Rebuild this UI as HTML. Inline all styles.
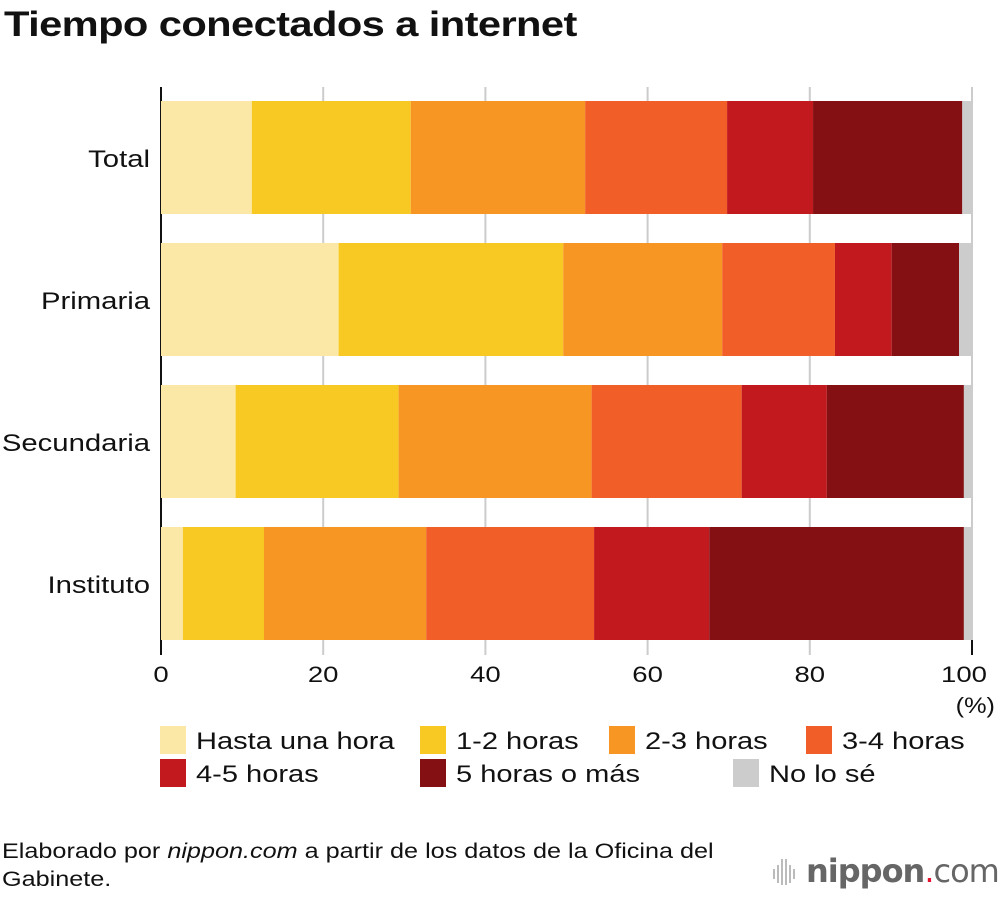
<!DOCTYPE html>
<html><head><meta charset="utf-8"><style>
body{margin:0;background:#fff;font-family:"Liberation Sans",sans-serif;}
#wrap{position:relative;width:1000px;height:898px;overflow:hidden}
.t{position:absolute;color:#111;white-space:nowrap;transform-origin:0 0}
</style></head><body>
<div id="wrap">
<div class="t" style="left:4px;top:5px;font-size:35px;font-weight:bold;letter-spacing:-0.5px;transform:scaleX(1.19)">Tiempo conectados a internet</div>
<svg id="chart" width="1000" height="898" style="position:absolute;left:0;top:0"></svg>
<div class="t" style="left:2px;top:838px;font-size:21px;line-height:28px;transform:scaleX(1.2)">Elaborado por <i>nippon.com</i> a partir de los datos de la Oficina del<br>Gabinete.</div>
<div style="position:absolute;left:772px;top:856px;width:228px;height:36px">
<svg width="30" height="36" style="position:absolute;left:0;top:0">
<g fill="#bbb"><rect x="1" y="13" width="2" height="10"/><rect x="5" y="9" width="2" height="18"/><rect x="9" y="3" width="2" height="26"/><rect x="13" y="3" width="2" height="26"/><rect x="17" y="9" width="2" height="18"/><rect x="21" y="13" width="2" height="10"/></g></svg>
<div class="t" style="left:34px;top:-4px;font-size:32px;color:#666;font-family:'DejaVu Sans',sans-serif;letter-spacing:-1px"><b>nippon</b><span style="color:#e8112d">.</span>com</div>
</div>
</div>
<script>
const categories=["Total","Primaria","Secundaria","Instituto"];
const seriesNames=["Hasta una hora","1-2 horas","2-3 horas","3-4 horas","4-5 horas","5 horas o más","No lo sé"];
const s0=[11.2,21.9,9.2,2.7];
const s1=[19.6,27.7,20.1,10.0];
const s2=[21.5,19.6,23.8,20.0];
const s3=[17.5,13.9,18.5,20.7];
const s4=[10.6,7.0,10.5,14.2];
const s5=[18.4,8.3,16.9,31.4];
const s6=[1.2,1.6,1.0,1.0];
const xTicks=[0,20,40,60,80,100];
const series=[s0,s1,s2,s3,s4,s5,s6];
const colors=["#fce8a6","#f8c823","#f79622","#f15e27","#c1191d","#841013","#cccccc"];
const NS="http://www.w3.org/2000/svg";
const svg=document.getElementById('chart');
const x=v=>161+v*8.11;
const y=i=>101+i*142;
function el(t,a){const e=document.createElementNS(NS,t);for(const k in a)e.setAttribute(k,a[k]);svg.appendChild(e);return e;}
function widen(t,f){const w=t.getComputedTextLength();t.setAttribute('textLength',w*f);t.setAttribute('lengthAdjust','spacingAndGlyphs');}
xTicks.forEach(t=>{
 const g=el('line',{x1:x(t),x2:x(t),y1:87,y2:655,stroke:t===0?'#111':'#ccc','stroke-width':2});
 
 
 if(t===100){const k=el('line',{x1:x(t),x2:x(t),y1:640,y2:655,stroke:'#111','stroke-width':2});
  
  }
 const tx=el('text',{x:x(t)-(t===100?8:0),y:682,'font-size':22,'text-anchor':'middle',fill:'#111'});
 tx.textContent=t;
 
 
 widen(tx,1.25);
});
const pct=el('text',{x:995,y:713,'font-size':22,'text-anchor':'end',fill:'#111'});pct.textContent='(%)';


widen(pct,1.15);
categories.forEach((c,i)=>{
 let acc=0;
 series.forEach((s,j)=>{
  const r=el('rect',{x:x(acc),y:y(i),width:x(acc+s[i])-x(acc),height:113,fill:colors[j]});
  
  
  acc+=s[i];
 });
 const l=el('text',{x:150,y:y(i)+66,'font-size':24,'text-anchor':'end',fill:'#111'});l.textContent=c;
 
 
 widen(l,1.22);
});
const lx=[160,420,609,806,160,420,733], ly=[726,726,726,726,759,759,759];
seriesNames.forEach((n,j)=>{
 const r=el('rect',{x:lx[j],y:ly[j],width:26,height:28,fill:colors[j]});
 
 
 const t=el('text',{x:lx[j]+36,y:ly[j]+23,'font-size':24,fill:'#111'});t.textContent=n;
 
 
 widen(t,1.21);
});
</script>
</body></html>
